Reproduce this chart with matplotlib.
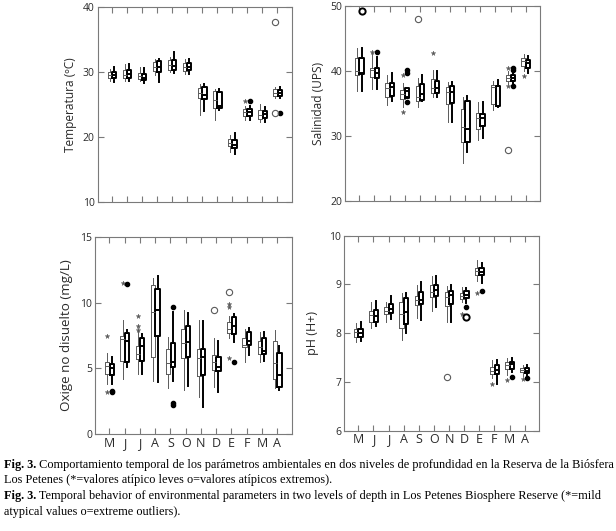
import matplotlib
matplotlib.use("Agg")
import matplotlib.pyplot as plt

plt.rcParams['font.family'] = ['Open Sans', 'DejaVu Sans']

months = ['M', 'J', 'J', 'A', 'S', 'O', 'N', 'D', 'E', 'F', 'M', 'A']

# ---- Temperature (°C): [whislo, q1, med, q3, whishi] per month ----
temp_surf = [[28.5, 29.1, 29.5, 30.0, 30.4], [28.5, 29.0, 29.5, 30.2, 31.2], [28.6, 28.9, 29.3, 29.8, 30.7],
             [29.5, 30.1, 30.7, 31.5, 32.0], [30.0, 30.3, 31.0, 31.8, 32.3], [29.6, 30.1, 30.7, 31.4, 32.0],
             [23.3, 25.9, 26.7, 27.5, 28.1], [22.6, 24.4, 25.6, 27.1, 27.3], [17.6, 18.6, 19.1, 19.6, 20.3],
             [22.6, 23.2, 23.8, 24.3, 24.7], [22.2, 22.8, 23.4, 24.1, 25.0], [25.9, 26.2, 26.8, 27.3, 27.7]]
temp_bott = [[28.4, 29.1, 29.5, 30.0, 30.7], [28.5, 29.0, 29.6, 30.2, 31.2], [28.3, 28.7, 29.0, 29.7, 30.5],
             [28.4, 30.0, 30.8, 31.6, 32.0], [29.8, 30.2, 30.9, 31.8, 33.0], [29.6, 30.2, 30.8, 31.3, 32.0],
             [24.0, 25.8, 26.4, 27.6, 28.1], [24.1, 24.4, 24.8, 26.9, 27.3], [17.3, 18.2, 18.8, 19.5, 20.6],
             [22.6, 23.2, 23.8, 24.3, 24.8], [22.2, 22.9, 23.5, 24.0, 24.6], [25.9, 26.2, 26.7, 27.2, 27.6]]
temp_surf_mild = [[], [], [], [], [], [], [], [], [], [25.5], [], []]
temp_bott_mild = [[], [], [], [], [], [], [], [], [], [25.5], [], [23.7]]
temp_surf_ext = [[], [], [], [], [], [], [], [], [], [], [], [37.6, 23.7]]
temp_bott_ext = [[], [], [], [], [], [], [], [], [], [], [], []]

# ---- Salinity (UPS) ----
sal_surf = [[36.9, 39.4, 40.0, 41.9, 43.5], [37.2, 39.0, 40.1, 40.5, 42.7], [34.8, 35.9, 37.3, 38.1, 39.4],
            [34.4, 35.6, 36.4, 37.1, 38.2], [34.4, 35.3, 36.0, 37.7, 38.9], [36.0, 36.6, 37.4, 38.8, 40.1],
            [32.2, 34.9, 36.7, 37.5, 38.3], [25.9, 29.1, 31.3, 34.2, 35.9], [29.4, 31.0, 32.7, 33.5, 35.2],
            [33.9, 34.9, 37.5, 37.8, 38.5], [37.9, 38.5, 38.9, 39.4, 39.9], [40.0, 40.8, 41.5, 41.9, 42.6]]
sal_bott = [[36.9, 39.5, 39.7, 41.9, 43.5], [37.2, 38.9, 39.6, 40.5, 42.1], [35.3, 36.1, 37.5, 38.2, 39.6],
            [35.9, 35.8, 36.9, 37.3, 37.3], [35.3, 35.5, 36.5, 37.9, 39.4], [36.0, 36.6, 37.4, 38.5, 40.0],
            [32.2, 35.0, 36.7, 37.7, 38.3], [27.5, 29.0, 31.0, 35.4, 36.2], [29.7, 31.5, 32.7, 33.4, 35.2],
            [34.4, 34.6, 37.7, 37.7, 38.6], [37.9, 38.5, 38.9, 39.4, 39.9], [39.7, 40.4, 41.2, 41.7, 42.2]]
sal_surf_mild = [[], [42.9], [], [39.3, 33.7], [], [42.8], [], [], [], [], [40.4, 37.7], [39.2]]
sal_bott_mild = [[], [42.9], [], [40.1, 39.6, 35.2], [], [], [], [], [], [], [40.5, 40.1, 37.7], []]
sal_surf_ext = [[], [], [], [], [48.0], [], [], [], [], [], [27.9], []]
sal_bott_ext = [[49.2], [], [], [], [], [], [], [], [], [], [], []]

# ---- Dissolved oxygen (mg/L) ----
oxy_surf = [[3.8, 4.6, 5.2, 5.5, 6.2], [4.2, 5.6, 7.2, 7.5, 8.7], [4.6, 5.7, 6.1, 6.7, 7.9],
            [4.05, 5.9, 9.3, 11.3, 11.85], [3.5, 4.6, 5.45, 6.5, 7.4], [3.4, 5.8, 6.9, 8.0, 9.4],
            [2.8, 4.4, 5.8, 6.5, 8.7], [3.6, 4.9, 5.5, 6.0, 7.3], [7.3, 7.7, 8.0, 8.55, 9.0],
            [5.5, 6.65, 6.8, 7.3, 8.0], [5.5, 6.1, 6.6, 7.1, 7.75], [3.5, 4.2, 5.4, 7.1, 7.9]]
oxy_bott = [[3.8, 4.5, 5.0, 5.3, 5.9], [5.1, 5.5, 7.1, 7.7, 7.9], [4.6, 5.6, 6.7, 7.3, 7.6],
            [4.0, 7.5, 9.4, 11.0, 12.0], [4.05, 5.1, 5.5, 6.9, 9.3], [3.7, 5.9, 7.0, 8.2, 9.2],
            [2.1, 4.5, 5.9, 6.5, 8.6], [3.2, 4.8, 5.1, 5.9, 7.1], [7.0, 7.6, 8.2, 8.9, 9.1],
            [6.0, 6.8, 7.1, 7.75, 8.1], [5.6, 6.1, 6.35, 7.3, 7.8], [3.4, 3.6, 4.5, 6.15, 6.7]]
oxy_surf_mild = [[7.5, 3.2], [11.5], [9.0, 8.2, 7.9], [], [], [], [], [], [9.9, 9.7, 5.8], [], [], []]
oxy_bott_mild = [[3.3, 3.2], [11.4], [], [], [9.7, 2.35, 2.2], [], [], [], [5.5], [], [], []]
oxy_surf_ext = [[], [], [], [], [], [], [], [9.4], [10.8], [], [], []]
oxy_bott_ext = [[], [], [], [], [], [], [], [], [], [], [], []]

# ---- pH ----
ph_surf = [[7.82, 7.93, 8.02, 8.09, 8.2], [8.1, 8.23, 8.38, 8.46, 8.65], [8.24, 8.39, 8.46, 8.53, 8.63],
           [7.86, 8.1, 8.39, 8.63, 8.82], [8.31, 8.58, 8.68, 8.77, 8.98], [8.46, 8.75, 8.85, 8.99, 9.18],
           [8.24, 8.55, 8.75, 8.85, 8.96], [8.63, 8.70, 8.77, 8.82, 8.94], [9.07, 9.19, 9.28, 9.34, 9.5],
           [7.08, 7.16, 7.23, 7.30, 7.45], [7.15, 7.27, 7.34, 7.41, 7.5], [7.13, 7.2, 7.25, 7.28, 7.34]]
ph_bott = [[7.83, 7.93, 8.0, 8.09, 8.22], [8.14, 8.24, 8.36, 8.48, 8.66], [8.29, 8.41, 8.5, 8.6, 8.77],
           [8.0, 8.18, 8.43, 8.73, 8.82], [8.27, 8.59, 8.68, 8.85, 9.06], [8.53, 8.77, 8.89, 8.98, 9.18],
           [8.24, 8.59, 8.78, 8.87, 8.98], [8.61, 8.72, 8.78, 8.87, 8.92], [9.04, 9.19, 9.26, 9.33, 9.43],
           [6.96, 7.16, 7.25, 7.34, 7.45], [7.2, 7.27, 7.36, 7.41, 7.49], [7.13, 7.18, 7.23, 7.28, 7.34]]
ph_surf_mild = [[], [], [], [], [], [], [], [8.39], [8.83], [6.96], [7.04], [7.06]]
ph_bott_mild = [[], [], [], [], [], [], [], [8.53], [8.87], [], [7.11], [7.09]]
ph_surf_ext = [[], [], [], [], [], [], [7.11], [], [], [], [], []]
ph_bott_ext = [[], [], [], [], [], [], [], [8.33], [], [], [], []]

panels = [
    dict(rect=[0.1583, 0.6201, 0.3153, 0.3672], ylim=(10, 40), yticks=[10, 20, 30, 40],
         label='Temperatura (ºC)', lfs=8.6, lx=-0.106, surf=temp_surf, bott=temp_bott,
         sm=temp_surf_mild, bm=temp_bott_mild, se=temp_surf_ext, be=temp_bott_ext, xlabels=False),
    dict(rect=[0.5600, 0.6215, 0.3166, 0.3678], ylim=(20, 50), yticks=[20, 30, 40, 50],
         label='Salinidad (UPS)', lfs=8.6, lx=-0.10, surf=sal_surf, bott=sal_bott,
         sm=sal_surf_mild, bm=sal_bott_mild, se=sal_surf_ext, be=sal_bott_ext, xlabels=False),
    dict(rect=[0.1542, 0.1821, 0.3193, 0.3721], ylim=(0, 15), yticks=[0, 5, 10, 15],
         label='Oxige no disuelto (mg/L)', lfs=9.6, lx=-0.112, surf=oxy_surf, bott=oxy_bott,
         sm=oxy_surf_mild, bm=oxy_bott_mild, se=oxy_surf_ext, be=oxy_bott_ext, xlabels=True),
    dict(rect=[0.5584, 0.1889, 0.3166, 0.3672], ylim=(6, 10), yticks=[6, 7, 8, 9, 10],
         label='pH (H+)', lfs=9, lx=-0.128, surf=ph_surf, bott=ph_bott,
         sm=ph_surf_mild, bm=ph_bott_mild, se=ph_surf_ext, be=ph_bott_ext, xlabels=True),
]

fig = plt.figure(figsize=(6.16, 5.31), dpi=100)
spine_c = '#7a7a7a'
text_c = '#2a2a2a'
thin_c = '#5a5a5a'

def stats(vals, fl):
    return [dict(whislo=v[0], q1=v[1], med=v[2], q3=v[3], whishi=v[4], fliers=f)
            for v, f in zip(vals, fl)]

for p in panels:
    ax = fig.add_axes(p['rect'])
    pos = list(range(1, len(months) + 1))
    ps = [x - 0.14 for x in pos]
    pb = [x + 0.15 for x in pos]
    thin_lw = 0.7
    ax.bxp(stats(p['surf'], p['sm']), positions=ps, widths=0.28, showcaps=False,
           boxprops=dict(color=thin_c, lw=thin_lw), whiskerprops=dict(color=thin_c, lw=thin_lw),
           medianprops=dict(color=thin_c, lw=thin_lw),
           flierprops=dict(marker='*', markersize=3.5, markerfacecolor=thin_c, markeredgecolor=thin_c,
                           markeredgewidth=0.3, linestyle='none'))
    ax.bxp(stats(p['bott'], p['bm']), positions=pb, widths=0.28, showcaps=False,
           boxprops=dict(color='black', lw=1.4), whiskerprops=dict(color='black', lw=1.4),
           medianprops=dict(color='black', lw=1.4),
           flierprops=dict(marker='o', markersize=3, markerfacecolor='black', markeredgecolor='black',
                           linestyle='none'))
    for x, vals in zip(ps, p['se']):
        if vals:
            ax.plot([x] * len(vals), vals, linestyle='none', marker='o', markersize=4.5,
                    markerfacecolor='none', markeredgecolor=thin_c, markeredgewidth=0.8)
    for x, vals in zip(pb, p['be']):
        if vals:
            ax.plot([x] * len(vals), vals, linestyle='none', marker='o', markersize=4.5,
                    markerfacecolor='none', markeredgecolor='black', markeredgewidth=1.4)
    ax.set_xlim(0.05, 12.95)
    ax.set_ylim(*p['ylim'])
    ax.set_yticks(p['yticks'])
    ax.set_xticks(pos)
    if p['xlabels']:
        ax.set_xticklabels(months, fontsize=9, color=text_c)
    else:
        ax.set_xticklabels([])
    ax.tick_params(direction='in', length=4, width=0.8, color=spine_c, top=True, right=True,
                   labelsize=7.5, labelcolor=text_c, pad=2)
    ax.tick_params(axis='x', labelsize=9, pad=2)
    for s in ax.spines.values():
        s.set_color(spine_c)
        s.set_linewidth(0.8)
    ax.set_ylabel(p['label'], fontsize=p['lfs'], color=text_c)
    ax.yaxis.set_label_coords(p['lx'], 0.5)

# caption
cap = fig.add_axes([0, 0, 1, 1])
cap.set_axis_off()
cap.set_xlim(0, 616)
cap.set_ylim(531, 0)
serif = 'Liberation Serif'
fs = 8.85
lines = [
    ('Fig. 3.', ' Comportamiento temporal de los parámetros ambientales en dos niveles de profundidad en la Reserva de la Biósfera', 465),
    ('', 'Los Petenes (*=valores atípico leves o=valores atípicos extremos).', 480),
    ('Fig. 3.', ' Temporal behavior of environmental parameters in two levels of depth in Los Petenes Biosphere Reserve (*=mild', 496.5),
    ('', 'atypical values o=extreme outliers).', 511.5),
]
for bold, rest, y in lines:
    if bold:
        t = cap.text(4, y, bold, fontsize=fs, family=serif, weight='bold', va='center', ha='left', color='black')
        cap.annotate(rest, xy=(1, 0.5), xycoords=t, va='center', ha='left', fontsize=fs,
                     family=serif, color='black')
    else:
        cap.text(4, y, rest, fontsize=fs, family=serif, va='center', ha='left', color='black')

fig.savefig('out.png', dpi=100)
